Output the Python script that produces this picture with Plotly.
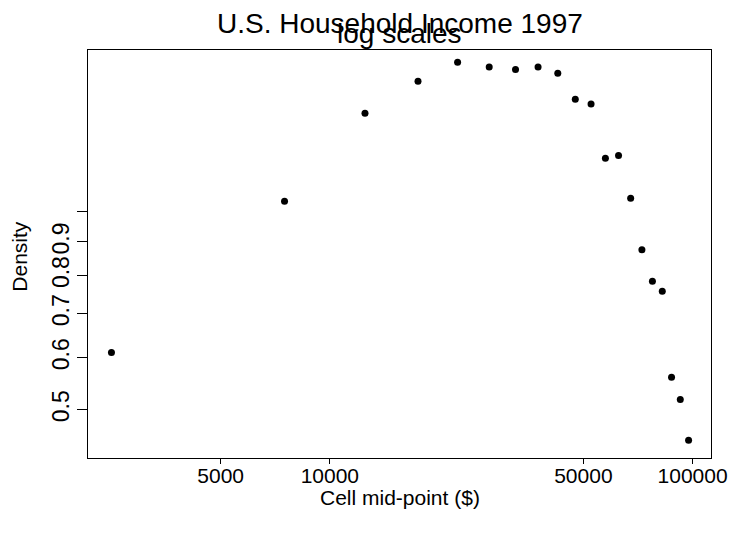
import plotly.graph_objects as go

# Data: cell mid-points (US household income brackets, $5000 wide) and density
midpoints = [2500, 7500, 12500, 17500, 22500, 27500, 32500, 37500, 42500, 47500,
             52500, 57500, 62500, 67500, 72500, 77500, 82500, 87500, 92500, 97500]
density = [0.611, 1.038, 1.413, 1.581, 1.690, 1.661, 1.647, 1.661, 1.626, 1.484,
           1.459, 1.207, 1.219, 1.049, 0.876, 0.784, 0.757, 0.560, 0.518, 0.449]

x_tickvals = [5000, 10000, 50000, 100000]
x_ticktext = ["5000", "10000", "50000", "100000"]
y_tickvals = [0.5, 0.6, 0.7, 0.8, 0.9, 1.0]
y_ticktext = ["0.5", "0.6", "0.7", "0.8", "0.9", ""]

title_main = "U.S. Household Income 1997"
title_sub = "log scales"
x_title = "Cell mid-point ($)"
y_title = "Density"

W, H = 739, 546
L, R, T, B = 88, 22, 50, 88
PW, PH = W - L - R, H - T - B

def px_x(px):
    return (px - L) / PW

def px_y(py):
    return (H - B - py) / PH

FONT = "Liberation Sans, Arial, Helvetica, sans-serif"

fig = go.Figure()
fig.add_trace(go.Scatter(
    x=midpoints, y=density, mode="markers",
    marker=dict(color="black", size=7, line=dict(width=0)),
    hoverinfo="x+y", showlegend=False,
))

fig.update_layout(
    width=W, height=H,
    margin=dict(l=L, r=R, t=T, b=B, pad=0),
    paper_bgcolor="white", plot_bgcolor="white",
    font=dict(family=FONT, color="black", size=21),
    xaxis=dict(
        type="log", range=[3.3333, 5.0508],
        tickvals=x_tickvals, ticktext=x_ticktext,
        ticks="outside", ticklen=5, tickcolor="black", tickwidth=1,
        showgrid=False, zeroline=False,
        showline=True, linecolor="black", linewidth=1, mirror=True,
        tickfont=dict(size=21, family=FONT, color="black"),
        ticklabelstandoff=-6,
    ),
    yaxis=dict(
        type="log", range=[-0.3746, 0.2464],
        tickvals=y_tickvals, ticktext=y_ticktext,
        ticks="outside", ticklen=10, tickcolor="black", tickwidth=1,
        tickangle=-90,
        showgrid=False, zeroline=False,
        showline=True, linecolor="black", linewidth=1, mirror=True,
        tickfont=dict(size=23, family=FONT, color="black"),
        ticklabelstandoff=-1,
    ),
    annotations=[
        dict(text=title_main, xref="paper", yref="paper",
             x=px_x(402.5), y=px_y(23.5), xanchor="center", yanchor="middle",
             showarrow=False, font=dict(size=28, family=FONT, color="black")),
        dict(text=title_sub, xref="paper", yref="paper",
             x=px_x(402.5), y=px_y(33.5), xanchor="center", yanchor="middle",
             showarrow=False, font=dict(size=28, family=FONT, color="black")),
        dict(text=x_title, xref="paper", yref="paper",
             x=px_x(402.5), y=px_y(497), xanchor="center", yanchor="middle",
             showarrow=False, font=dict(size=21, family=FONT, color="black")),
        dict(text=y_title, xref="paper", yref="paper",
             x=px_x(18), y=px_y(256), xanchor="center", yanchor="middle",
             textangle=-90,
             showarrow=False, font=dict(size=21, family=FONT, color="black")),
    ],
)

fig.write_html("out.html")
